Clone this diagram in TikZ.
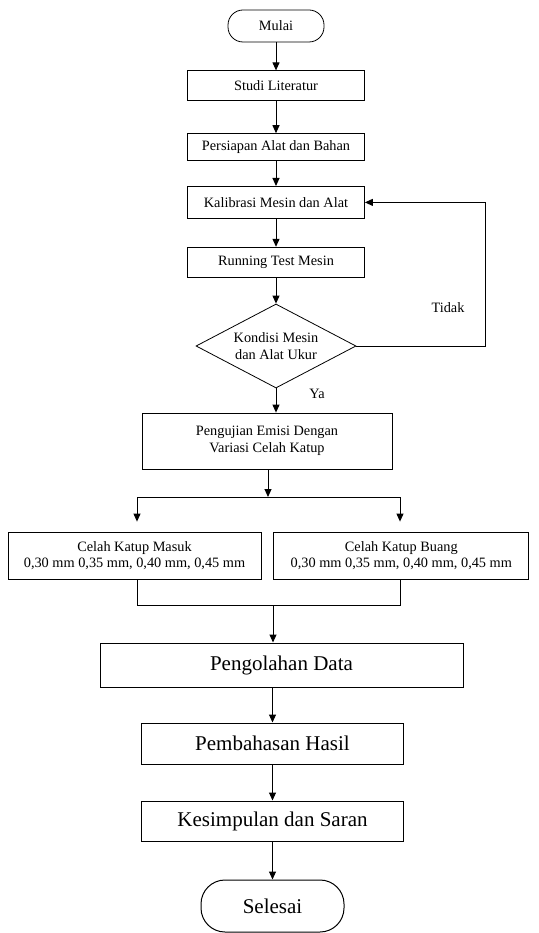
\documentclass[tikz,border=0pt]{standalone}
\usepackage{fontspec}
\setmainfont{Liberation Serif}
\usetikzlibrary{shapes.geometric, arrows.meta, positioning, calc}

\begin{document}
\begin{tikzpicture}[
  font=\fontsize{14.3}{16.5}\selectfont,
  % Box styles
  terminal/.style={draw, line width=0.8pt, rounded corners=15pt, minimum width=96pt,
                   minimum height=32pt, align=center},
  proc/.style={draw, line width=0.8pt, minimum width=177pt, minimum height=30pt,
               align=center, inner sep=2pt},
  decision/.style={draw, line width=0.8pt, diamond, aspect=1.9, minimum width=160pt,
                   minimum height=84pt, inner sep=0pt, align=center},
  bigproc/.style={draw, line width=1pt, minimum width=262pt, minimum height=41pt,
                  align=center, font=\fontsize{21}{25}\selectfont},
  arrow/.style={-{Triangle[length=8pt, width=7pt]}, line width=1pt},
  line/.style={line width=0.8pt},
  tag/.style={font=\fontsize{14.3}{16.5}\selectfont},
]
\useasboundingbox (0,0) rectangle (538pt,-933pt);

% ---- PREPARATION (top column) ----
\node[terminal] (mulai) at (276pt,-26pt) {Mulai};
\node[proc] (studi) [below=28pt of mulai] {Studi Literatur};
\node[proc, minimum height=27pt] (persiapan) [below=32pt of studi] {Persiapan Alat dan Bahan};
\node[proc, minimum height=32pt] (kalibrasi) [below=25pt of persiapan] {Kalibrasi Mesin dan Alat};
\node[proc] (running) [below=28pt of kalibrasi] {Running Test Mesin};
\node[decision] (kondisi) [below=26pt of running] {Kondisi Mesin\\dan Alat Ukur};

\draw[arrow] (mulai) -- (studi);
\draw[arrow] (studi) -- (persiapan);
\draw[arrow] (persiapan) -- (kalibrasi);
\draw[arrow] (kalibrasi) -- (running);
\draw[arrow] (running) -- (kondisi);

% loop back
\draw[arrow] (kondisi.east) -- ++(129pt,0) |- (kalibrasi.east);
\node[tag] (tidak) at (448pt,-308pt) {Tidak};

% ---- TEST ----
\node[proc, minimum width=250pt, minimum height=56pt] (uji) at (267pt,-441pt)
      {Pengujian Emisi Dengan\\Variasi Celah Katup};
\draw[arrow] (kondisi.south) -- (kondisi.south |- uji.north);
\node[tag] (ya) at (317pt,-394pt) {Ya};

% ---- VALVE GAPS ----
\node[proc, minimum width=253pt, minimum height=47pt] (masuk) at (134.5pt,-555.5pt)
      {Celah Katup Masuk\\0,30 mm 0,35 mm, 0,40 mm, 0,45 mm};
\node[proc, minimum width=255pt, minimum height=47pt] (buang) [right=12pt of masuk]
      {Celah Katup Buang\\0,30 mm 0,35 mm, 0,40 mm, 0,45 mm};

\coordinate (split) at (268pt,-497pt);
\draw[arrow] (uji.south -| split) -- (split);
\draw[line] (137pt,-497pt) coordinate (sl) -- (400pt,-497pt) coordinate (sr);
\draw[arrow, shorten >=10pt] (sl) -- (sl |- masuk.north);
\draw[arrow, shorten >=10pt] (sr) -- (sr |- buang.north);

\coordinate (join) at (273pt,-605pt);
\draw[line] (sl |- masuk.south) -- (sl |- join) -- (sr |- join) -- (sr |- buang.south);

% ---- RESULTS (bottom column) ----
\node[bigproc, minimum width=363pt, minimum height=44pt] (olah) at (281.5pt,-665pt) {Pengolahan Data};
\node[bigproc] (bahas) at (272.5pt,-743.5pt) {Pembahasan Hasil};
\node[bigproc, minimum height=40pt] (simpul) [below=36pt of bahas] {Kesimpulan dan Saran};
\node[terminal, line width=1pt, minimum width=143pt, minimum height=52pt, rounded corners=24pt,
      font=\fontsize{21}{25}\selectfont] (selesai) [below=38pt of simpul] {Selesai};

\draw[arrow] (join) -- (join |- olah.north);
\draw[arrow] (olah.south -| bahas.north) -- (bahas.north);
\draw[arrow] (bahas) -- (simpul);
\draw[arrow] (simpul) -- (selesai);

\end{tikzpicture}
\end{document}
